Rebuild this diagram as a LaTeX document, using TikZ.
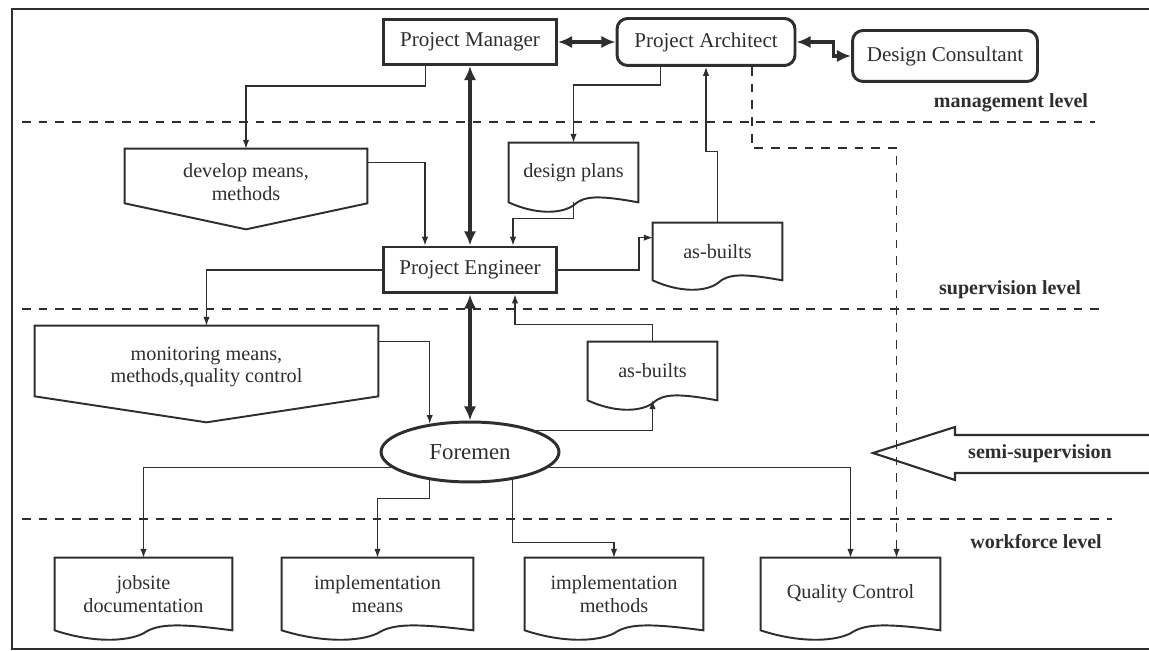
\documentclass[tikz,border=0pt]{standalone}
\usepackage{fontspec}
\setmainfont{Liberation Serif}
\usetikzlibrary{arrows.meta}
\usetikzlibrary{calc}
\usetikzlibrary{shapes.geometric}
\colorlet{ink}{black!82}
\tikzset{
  conn/.style={ink,line width=0.6pt,-{Latex[length=5pt,width=3.6pt]}},
  bigarrow/.style={ink,line width=2.2pt,{Latex[length=8pt,width=7pt]}-{Latex[length=8pt,width=7pt]}},
  levelline/.style={ink,line width=0.6pt,dash pattern=on 5pt off 4.5pt},
  docline/.style={draw=ink,line width=1.1pt},
  role/.style={draw=ink,line width=1.7pt,text=ink,minimum width=#1,minimum height=0.9cm,
               inner sep=1pt,font=\fontsize{12}{14}\selectfont},
  docbox/.style={text=ink,minimum width=#1,align=center,inner sep=1pt,
                 font=\fontsize{11.5}{13}\selectfont},
  lbl/.style={text=ink,font=\bfseries\fontsize{11.4}{13}\selectfont}
}
% document sheet with wavy bottom round a node
\newcommand\docOutline[1]{
  \draw[docline] (#1.south west) -- (#1.north west) -- (#1.north east) -- (#1.south east)
    .. controls ($(#1.south west)!0.7!(#1.south east)+(0,-7)$) and ($(#1.south west)!0.58!(#1.south east)+(0,-7)$)
    .. ($(#1.south)+(0,3)$)
    .. controls ($(#1.south west)!0.4!(#1.south east)+(0,12)$) and ($(#1.south west)!0.2!(#1.south east)+(0,12)$)
    .. cycle;
}
% box with a pointed bottom round a node
\newcommand\downTag[1]{
  \draw[docline] (#1.north west) -- (#1.north east) -- ($(#1.south east)+(0,-12)$)
    -- ($(#1.south)+(0,14)$) -- ($(#1.south west)+(0,-12)$) -- cycle;
}

\begin{document}
\begin{tikzpicture}[x=0.02cm,y=-0.02cm]
  \useasboundingbox (0,0) rectangle (1149,651);
  \clip (0,0) rectangle (1149,651);

  % FRAME
  \draw[ink,line width=1.2pt] (1149,9) -- (12,9) -- (12,649) -- (1149,649);

  % LEVELS
  \foreach \y/\e in {122/1095,309/1100,519/1112}
    \draw[levelline] (22,\y) -- (\e,\y);
  \node[lbl] (mgmt) at (1011,103) {management level};
  \node[lbl] (sup)  at (1010,290) {supervision level};
  \node[lbl] (work) at (1036,542) {workforce level};

  % SEMI-SUPERVISION ARROW
  \draw[ink,line width=1.2pt] (1160,435) -- (955,435) -- (955,427) -- (873,453)
    -- (955,480) -- (955,473) -- (1160,473);
  \node[lbl] (semi) at (1040,454) {semi-supervision};

  % ROLES
  \node[role=3.46cm] (pm) at (470,42) {Project Manager};
  \node[role=3.56cm,rounded corners=6pt,minimum height=0.94cm] (pa) at (706,42) {Project Architect};
  \node[role=3.7cm,rounded corners=6pt,minimum height=1.02cm] (dc) at (945,56) {Design Consultant};
  \node[role=3.46cm,minimum height=0.92cm] (pe) at (470,270) {Project Engineer};
  \node[ellipse,draw=ink,line width=1.7pt,text=ink,minimum width=3.56cm,minimum height=1.2cm,
        font=\fontsize{13}{15}\selectfont] (fm) at (470,452) {Foremen};

  % DOCUMENTS
  \node[docbox=4.84cm,minimum height=1.32cm] (dev) at (246,182) {develop means,\\methods};
  \node[docbox=6.86cm,minimum height=1.64cm] (mon) at (206.5,367) {monitoring means,\\methods,quality control};
  \node[docbox=2.58cm,minimum height=1.18cm] (dp)  at (573.5,172.5) {design plans};
  \node[docbox=2.58cm,minimum height=1.14cm] (ab1) at (717.5,251.5) {as-builts};
  \node[docbox=2.58cm,minimum height=1.16cm] (ab2) at (652.5,371) {as-builts};
  \node[docbox=3.54cm,minimum height=1.44cm] (jd)  at (143.5,594) {jobsite\\documentation};
  \node[docbox=3.82cm,minimum height=1.44cm] (im)  at (377.5,594) {implementation\\means};
  \node[docbox=3.56cm,minimum height=1.44cm] (imt) at (614,594) {implementation\\methods};
  \node[docbox=3.58cm,minimum height=1.44cm] (qc)  at (850.5,594) {Quality Control};
  \downTag{dev}
  \downTag{mon}
  \foreach \n in {dp,ab1,ab2,jd,im,imt,qc}{
    \docOutline{\n}
  }

  % CONNECTORS
  \draw[bigarrow] (pm.east) -- (pa.west);
  \draw[bigarrow] (pa.east) -- ++(37,0) |- (dc.west);
  \draw[bigarrow] (pm.south) -- (pe.north);
  \draw[bigarrow] (pe.south) -- (fm.north);
  \draw[conn] (pm.south west) ++(43,0) -- ++(0,20) -| (dev.north);
  \draw[conn] (dev.north east) ++(0,14) -| ($(pe.north)+(-45,0)$);
  \draw[conn] (pa.south west) ++(45,0) -- ++(0,18) -| (dp.north);
  \draw[conn] (dp.south) -- ++(0,16) -| ($(pe.north)+(43,0)$);
  \draw[conn] (pe.east) -- ++(81,0) |- ($(ab1.north west)+(0,15)$);
  \draw[conn] (ab1.north) -- ++(0,-71) -| (pa.south);
  \draw[conn,dash pattern=on 5pt off 4.5pt] (pa.south) ++(46,0) -- ++(0,81) -| ($(qc.north)+(46,0)$);
  \draw[conn] (pe.west) -| (mon.north);
  \draw[conn] (mon.north east) ++(0,16) -| (fm.145);
  \draw[conn] (fm.18) -| (ab2.south);
  \draw[conn] (ab2.north) -- ++(0,-17) -| ($(pe.south)+(45,0)$);
  \draw[conn] (fm.191) -| (jd.north);
  \draw[conn] (fm.-11) -| (qc.north);
  \draw[conn] (fm.215) -- ++(0,18) -| (im.north);
  \draw[conn] (fm.-33) -- ++(0,63) -| (imt.north);
\end{tikzpicture}
\end{document}
